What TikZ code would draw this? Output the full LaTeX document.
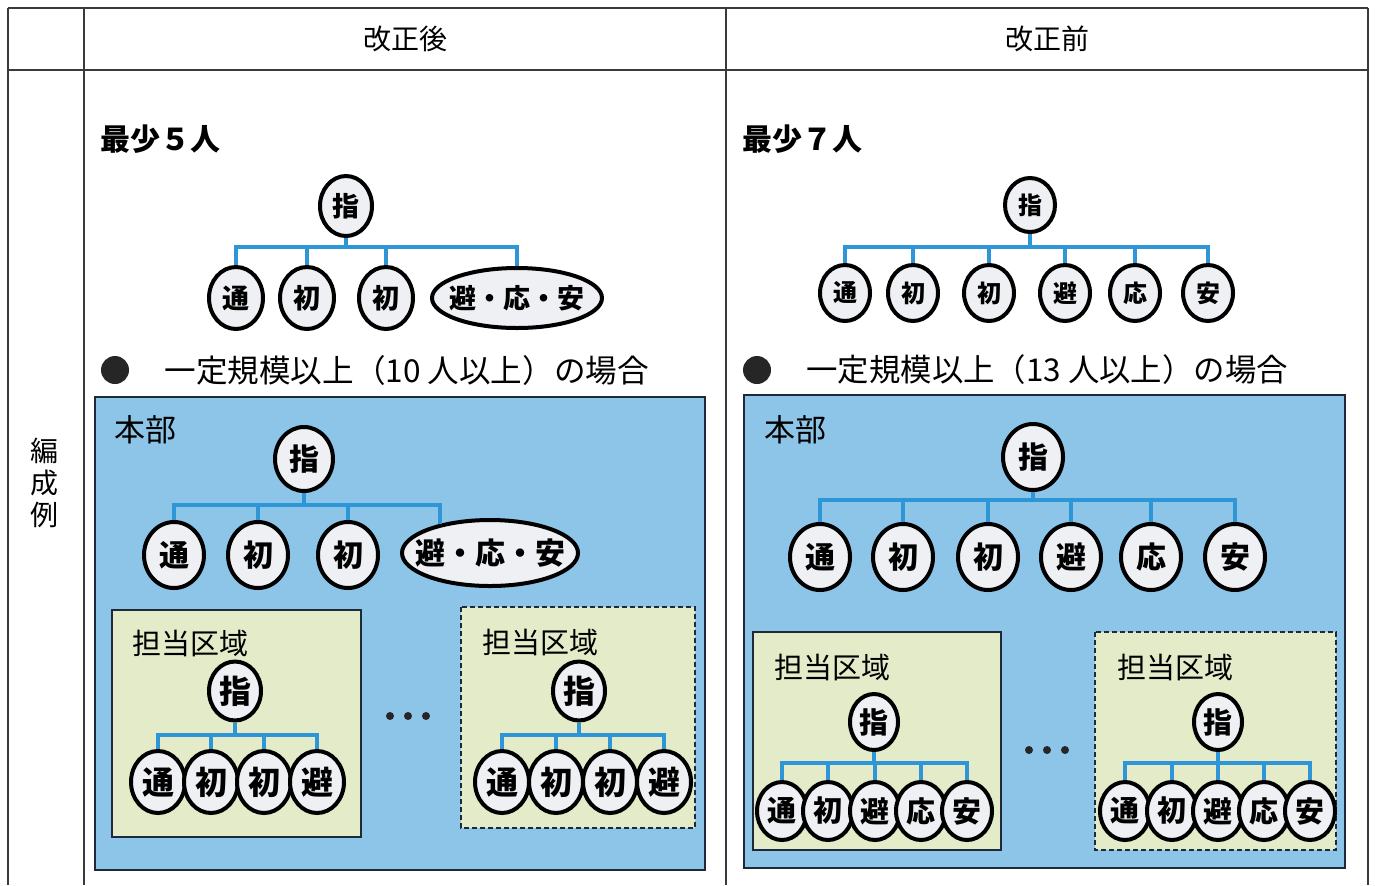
\documentclass[tikz,border=0pt]{standalone}
\usepackage{fontspec}
\setmainfont{Noto Sans CJK JP}
\usetikzlibrary{shapes.geometric}
\definecolor{bluebox}{HTML}{8CC5E8}
\definecolor{greenbox}{HTML}{E3EBC9}
\definecolor{elfill}{HTML}{EEF0F4}
\definecolor{treeblue}{HTML}{2E95D6}
\definecolor{gridc}{HTML}{3A3A3A}
\definecolor{boxline}{HTML}{1E2A3A}
\newcommand\jfs[1]{\fontsize{#1}{#1}\selectfont}
\begin{document}
\begin{tikzpicture}[x=0.5pt,y=-0.5pt,
  gridline/.style={draw=gridc, line width=0.8pt},
  mem/.style={ellipse, draw=black, line width=2pt, fill=elfill, inner sep=0pt},
  sz/.style 2 args={minimum width=#1pt, minimum height=#2pt},
  tl/.style={draw=treeblue, line width=2pt},
  lbl/.style={anchor=west, inner sep=0pt},
  hq/.style={fill=bluebox, draw=boxline, line width=0.6pt},
  area/.style={fill=greenbox, draw=boxline, line width=0.6pt},
  areadash/.style={fill=greenbox, draw=boxline, line width=0.6pt, dash pattern=on 2.5pt off 1.5pt},
  dotc/.style={circle, fill=black!85, inner sep=0pt, minimum size=4pt},
  bul/.style={circle, fill=black!85, inner sep=0pt, minimum size=14pt},
  ta/.style={font=\bfseries\jfs{13.5}},
  tb/.style={font=\bfseries\jfs{15}},
  tc/.style={font=\bfseries\jfs{16}},
  td/.style={font=\bfseries\jfs{14.5}},
  te/.style={font=\bfseries\jfs{12}}
]
\useasboundingbox (0,0) rectangle (1375,885);
\fill[white] (0,0) rectangle (1375,885);
% table
\draw[gridline] (8,8) -- (1368,8);
\draw[gridline] (8,70) -- (1368,70);
\draw[gridline] (8,8) -- (8,885);
\draw[gridline] (84,8) -- (84,885);
\draw[gridline] (726,8) -- (726,885);
\draw[gridline] (1368,8) -- (1368,885);
\node (h1) at (405,39) {\jfs{14}改正後};
\node (h2) at (1047,39) {\jfs{14}改正前};
\node[align=center, font=\jfs{14}, text depth=0pt] (h3) at (45,482) {\jfs{14}編\\[2pt]成\\[2pt]例};

% ================= LEFT =================
\node[lbl, font=\bfseries\jfs{15}] (m5) at (100,139) {最少５人};
\node[mem,sz={26}{30},ta] (A0) at (346,206) {指};
\node[mem,sz={27}{31},ta] (A1) at (236,298) {通};
\node[mem,sz={27}{31},ta] (A2) at (307,298) {初};
\node[mem,sz={27}{31},ta] (A3) at (386,298) {初};
\node[mem,sz={85}{30},ta] (A4) at (517,298) {\makebox[0pt]{避・応・安}};
\coordinate (tA) at (346,247);
\draw[tl] (A0.south) -- (tA);
\foreach \c in {A1,A2,A3,A4} \draw[tl] (tA) -| (\c.north);

\node[bul] (b1) at (115,370) {};
\node[lbl, font=\jfs{15.8}] (s1) at (164,370) {一定規模以上（10 人以上）の場合};

\draw[hq] (95,397) rectangle (705,870);
\node[lbl, font=\jfs{15.5}] (hq1) at (114,430) {本部};
\node[mem,sz={29}{32},tb] (B0) at (304,459) {指};
\node[mem,sz={30}{33},tb] (B1) at (174,555) {通};
\node[mem,sz={30}{33},tb] (B2) at (258,555) {初};
\node[mem,sz={30}{33},tb] (B3) at (348,555) {初};
\node[mem,sz={88}{33},tb] (B4) at (490,553) {\makebox[0pt]{避・応・安}};
\coordinate (tB) at (304,505);
\draw[tl] (B0.south) -- (tB);
\foreach \c in {B1,B2,B3} \draw[tl] (tB) -| (\c.north);
\draw[tl] (tB) -| (B4.150);

\draw[area] (112,610) rectangle (361,837);
\node[lbl, font=\jfs{14.5}] (ar1) at (132,643) {担当区域};
\node[mem,sz={26}{29.5},tc] (C0) at (235,691) {指};
\node[mem,sz={27}{31},tc] (C1) at (158,782) {通};
\node[mem,sz={27}{31},tc] (C2) at (211,782) {初};
\node[mem,sz={27}{31},tc] (C3) at (264,782) {初};
\node[mem,sz={27}{31},tc] (C4) at (317,782) {避};
\coordinate (tC) at (235,735);
\draw[tl] (C0.south) -- (tC);
\foreach \c in {C1,C2,C3,C4} \draw[tl] (tC) -| (\c.north);

\node[dotc] (d1) at (390,716) {};
\node[dotc] (d2) at (408,716) {};
\node[dotc] (d3) at (426,716) {};

\draw[areadash] (461,607) rectangle (695,828);
\node[lbl, font=\jfs{14.5}] (ar2) at (482,642) {担当区域};
\node[mem,sz={26}{29.5},tc] (D0) at (579,691) {指};
\node[mem,sz={27}{31},tc] (D1) at (502,782) {通};
\node[mem,sz={27}{31},tc] (D2) at (556,782) {初};
\node[mem,sz={27}{31},tc] (D3) at (610,782) {初};
\node[mem,sz={27}{31},tc] (D4) at (664,782) {避};
\coordinate (tD) at (579,735);
\draw[tl] (D0.south) -- (tD);
\foreach \c in {D1,D2,D3,D4} \draw[tl] (tD) -| (\c.north);

% ================= RIGHT =================
\node[lbl, font=\bfseries\jfs{15}] (m7) at (742,139) {最少７人};
\node[mem,sz={25}{27},te] (E0) at (1030,205) {指};
\node[mem,sz={25}{28},te] (E1) at (845,293) {通};
\node[mem,sz={25}{28},te] (E2) at (913,293) {初};
\node[mem,sz={25}{28},te] (E3) at (989,293) {初};
\node[mem,sz={25}{28},te] (E4) at (1065,293) {避};
\node[mem,sz={25}{28},te] (E5) at (1135,293) {応};
\node[mem,sz={25}{28},te] (E6) at (1208,293) {安};
\coordinate (tE) at (1030,247);
\draw[tl] (E0.south) -- (tE);
\foreach \c in {E1,E2,E3,E4,E5,E6} \draw[tl] (tE) -| (\c.north);

\node[bul] (b2) at (757,370) {};
\node[lbl, font=\jfs{15.7}] (s2) at (806,370) {一定規模以上（13 人以上）の場合};

\draw[hq] (744,395) rectangle (1345,868);
\node[lbl, font=\jfs{15.5}] (hq2) at (764,430) {本部};
\node[mem,sz={30}{33},tb] (F0) at (1033,457) {指};
\node[mem,sz={30}{33},tb] (F1) at (820,557) {通};
\node[mem,sz={30}{33},tb] (F2) at (903,557) {初};
\node[mem,sz={30}{33},tb] (F3) at (988,557) {初};
\node[mem,sz={30}{33},tb] (F4) at (1071,557) {避};
\node[mem,sz={30}{33},tb] (F5) at (1151,557) {応};
\node[mem,sz={30}{33},tb] (F6) at (1235,557) {安};
\coordinate (tF) at (1033,500);
\draw[tl] (F0.south) -- (tF);
\foreach \c in {F1,F2,F3,F4,F5,F6} \draw[tl] (tF) -| (\c.north);

\draw[area] (753,632) rectangle (1001,850);
\node[lbl, font=\jfs{14.5}] (ar3) at (774,667) {担当区域};
\node[mem,sz={24}{28},td] (G0) at (874,722) {指};
\node[mem,sz={25}{29},td] (G1) at (782,811) {通};
\node[mem,sz={25}{29},td] (G2) at (828,811) {初};
\node[mem,sz={25}{29},td] (G3) at (875,811) {避};
\node[mem,sz={25}{29},td] (G4) at (921,811) {応};
\node[mem,sz={25}{29},td] (G5) at (967,811) {安};
\coordinate (tG) at (874,763);
\draw[tl] (G0.south) -- (tG);
\foreach \c in {G1,G2,G3,G4,G5} \draw[tl] (tG) -| (\c.north);

\node[dotc] (d4) at (1029,750) {};
\node[dotc] (d5) at (1047,750) {};
\node[dotc] (d6) at (1065,750) {};

\draw[areadash] (1095,632) rectangle (1336,850);
\node[lbl, font=\jfs{14.5}] (ar4) at (1117,667) {担当区域};
\node[mem,sz={24}{28},td] (H0) at (1218,722) {指};
\node[mem,sz={25}{29},td] (H1) at (1125,811) {通};
\node[mem,sz={25}{29},td] (H2) at (1172,811) {初};
\node[mem,sz={25}{29},td] (H3) at (1218,811) {避};
\node[mem,sz={25}{29},td] (H4) at (1264,811) {応};
\node[mem,sz={25}{29},td] (H5) at (1310,811) {安};
\coordinate (tH) at (1218,763);
\draw[tl] (H0.south) -- (tH);
\foreach \c in {H1,H2,H3,H4,H5} \draw[tl] (tH) -| (\c.north);
\end{tikzpicture}
\end{document}
